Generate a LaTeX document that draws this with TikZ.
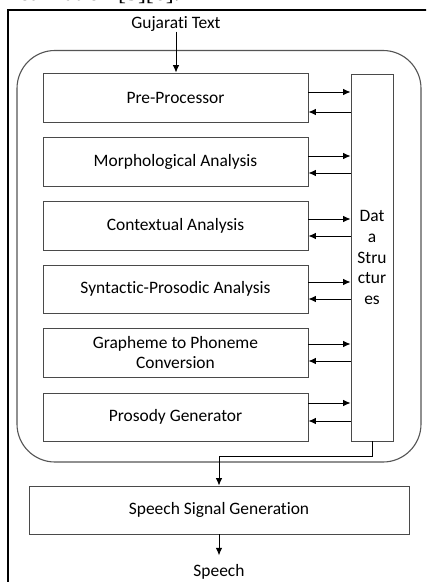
\documentclass[tikz,border=0pt]{standalone}
\usepackage{fontspec}
\setmainfont{Carlito}[Ligatures=NoCommon]
\newfontfamily\serifcut{Liberation Serif}
\usetikzlibrary{arrows.meta}
\definecolor{boxgray}{HTML}{4A4A4A}
\definecolor{roundgray}{HTML}{555555}
\begin{document}
\begin{tikzpicture}[x=1bp,y=-1bp,
  txt/.style={font=\fontsize{17.5}{21}\selectfont},
  proc/.style={txt, draw=boxgray, line width=0.9bp, minimum width=265bp, minimum height=49bp, inner sep=0pt, align=center},
  arr/.style={-{Latex[length=7.5bp,width=6.5bp]}, line width=0.9bp}]
\clip (0,0) rectangle (426,582);
\useasboundingbox (0,0) rectangle (426,582);
\fill[white] (0,0) rectangle (426,582);
% cut-off caption line at the top
\node[anchor=base east, font=\serifcut\fontsize{24}{28}\selectfont, inner sep=0pt] (cap) at (180,1) {realization [5][6].};
% outer frame
\draw[line width=1.5bp] (8,600) -- (8,10) -- (440,10);
% rounded container
\draw[draw=roundgray, line width=1.1bp, rounded corners=38bp] (17,50.5) rectangle (421,462);
% input label
\node[txt, inner sep=0pt] (gt) at (176,24) {Gujarati Text};
% process boxes
\node[proc] (pp) at (175.5,97.5) {Pre-Processor};
\node[proc] (mo) at (175.5,161.5) {Morphological Analysis};
\node[proc] (co) at (175.5,225.5) {Contextual Analysis};
\node[proc, minimum height=48bp] (sy) at (175.5,289) {Syntactic-Prosodic Analysis};
\node[proc] (gp) at (175.5,352.5) {Grapheme to Phoneme\\Conversion};
\node[proc, minimum height=48bp] (pg) at (175.5,417) {Prosody Generator};
% data structures
\node[txt, draw=boxgray, line width=0.9bp, minimum width=42bp, minimum height=367bp, inner sep=0pt, align=center] (ds) at (372,257.5) {Dat\\a\\Stru\\ctur\\es};
% speech signal generation
\node[proc, minimum width=380bp, minimum height=48bp] (ssg) at (219,510) {Speech Signal Generation};
\node[txt, inner sep=0pt] (sp) at (219,572) {Speech};
% connectors
\draw[arr] (gt.south) -- (gt.south |- pp.north);
\foreach \n/\a/\b in {pp/92/112, mo/156/173, co/219/236, sy/282/299, gp/344/361, pg/403/421}{
  \coordinate (ra) at (0,\a);
  \coordinate (rb) at (0,\b);
  \draw[arr] (\n.east |- ra) -- (ds.west |- ra);
  \draw[arr] (ds.west |- rb) -- (\n.east |- rb);
}
\coordinate (j) at (219,456);
\draw[arr] (ds.south) |- (j) -- (ssg.north);
\draw[arr, shorten >=9bp] (ssg.south) -- (sp.north);
\end{tikzpicture}
\end{document}
